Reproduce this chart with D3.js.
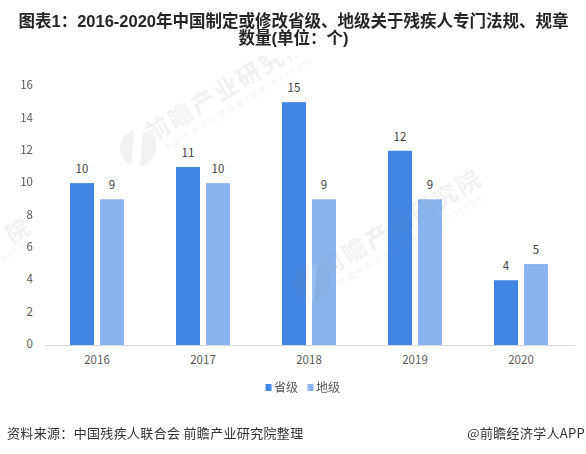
<!DOCTYPE html>
<html>
<head>
<meta charset="utf-8">
<script src="https://cdn.jsdelivr.net/npm/d3@7"></script>
<style>
    html, body { margin: 0; padding: 0; background: #fff; }
    svg { display: block; }
    text { font-family: "Noto Sans CJK SC", "Liberation Sans", sans-serif; }
</style>
</head>
<body>
<div id="chart"></div>
<script>
const years = ["2016", "2017", "2018", "2019", "2020"]
const seriesNames = ["省级", "地级"]
const provincial = [10, 11, 15, 12, 4]
const municipal = [9, 10, 9, 9, 5]
const yTicks = [0, 2, 4, 6, 8, 10, 12, 14, 16]
const titleLines = ["图表1：2016-2020年中国制定或修改省级、地级关于残疾人专门法规、规章", "数量(单位：个)"]
const sourceText = "资料来源：中国残疾人联合会 前瞻产业研究院整理"
const creditText = "@前瞻经济学人APP"

const width = 586
const height = 454
const colors = ["#4185e5", "#8ab4f0"]
const seriesValues = [provincial, municipal]

const svg = d3.select("#chart").append("svg")
    .attr("width", width)
    .attr("height", height)

// top of the watermark fades out below the title
svg.append("clipPath").attr("id", "mark-clip")
    .append("rect").attr("x", 0).attr("y", 56).attr("width", width).attr("height", height - 56)

// scales
const x = d3.scaleBand().domain(years).range([44, 574])
const x1 = d3.scaleBand().domain(seriesNames).range([0, 54]).paddingInner(0.2)
const y = d3.scaleLinear().domain([0, 16]).range([345, 86])
const groupOffset = (x.bandwidth() - 54) / 2

// --------- bars
const groups = svg.append("g").selectAll("g")
    .data(years)
    .join("g")
    .attr("transform", d => `translate(${x(d) + groupOffset},0)`)

seriesNames.forEach((name, s) => {
    groups.append("rect")
        .attr("x", x1(name))
        .attr("width", x1.bandwidth())
        .attr("y", (d, i) => y(seriesValues[s][i]))
        .attr("height", (d, i) => y(0) - y(seriesValues[s][i]))
        .attr("fill", colors[s])

    groups.append("text")
        .attr("x", x1(name) + x1.bandwidth() / 2)
        .attr("y", (d, i) => y(seriesValues[s][i]) - 10)
        .attr("text-anchor", "middle")
        .attr("font-size", 11.5)
        .attr("fill", "#404040")
        .text((d, i) => seriesValues[s][i])
})

// --------- watermark, shows through the bars
const markColor = "#7f8a9c"
const drawWatermark = (g) => {
    g.append("circle").attr("r", 18).attr("fill", markColor)
    g.append("path").attr("d", "M-4,-18 L5,-18 L2,18 L-7,18 Z").attr("fill", "#fff")
    g.append("text")
        .attr("transform", "translate(14,-5) rotate(-31)")
        .attr("font-size", 24)
        .attr("letter-spacing", 2.5)
        .attr("font-weight", 700)
        .attr("fill", markColor)
        .text("前瞻产业研究院")
    g.append("text")
        .attr("transform", "translate(28,3) rotate(-31)")
        .attr("font-size", 7.5)
        .attr("letter-spacing", 3)
        .attr("fill", markColor)
        .text("中国产业咨询领导者(股票:839599)")
}

const markLayer = svg.append("g")
    .attr("clip-path", "url(#mark-clip)")
    .attr("opacity", 0.11)
markLayer.selectAll("g")
    .data([[138, 148], [312, 283]])
    .join("g")
    .attr("transform", d => `translate(${d[0]},${d[1]})`)
    .each(function() { drawWatermark(d3.select(this)) })

// only the tail of the third stamp is on the page
markLayer.append("text")
    .attr("transform", "translate(12,244) rotate(-31)")
    .attr("font-size", 23)
    .attr("font-weight", 700)
    .attr("fill", markColor)
    .text("院")
markLayer.append("text")
    .attr("transform", "translate(4,262) rotate(-31)")
    .attr("font-size", 7.5)
    .attr("letter-spacing", 3)
    .attr("fill", markColor)
    .text("39599")

// --------- axes
const xAxis = svg.append("g")
    .attr("transform", `translate(0,${y(0)})`)
    .call(d3.axisBottom(x).tickSize(0).tickPadding(11))
xAxis.select(".domain").attr("stroke", "#d9d9d9").attr("stroke-width", 1)
xAxis.selectAll("text")
    .attr("font-size", 11.5)
    .attr("fill", "#595959")
    .style("font-family", '"Noto Sans CJK SC"')

const yAxis = svg.append("g")
    .attr("transform", "translate(33,-1)")
    .call(d3.axisLeft(y).tickValues(yTicks).tickSize(0).tickPadding(0))
yAxis.select(".domain").remove()
yAxis.selectAll("text")
    .attr("font-size", 11.5)
    .attr("fill", "#595959")
    .style("font-family", '"Noto Sans CJK SC"')

// --------- legend
const legend = svg.append("g")
const legendX = [265.5, 307.5]
seriesNames.forEach((name, s) => {
    legend.append("rect")
        .attr("x", legendX[s])
        .attr("y", 384)
        .attr("width", 6)
        .attr("height", 7)
        .attr("fill", colors[s])
    legend.append("text")
        .attr("x", legendX[s] + 8.5)
        .attr("y", 392)
        .attr("font-size", 12)
        .attr("fill", "#595959")
        .text(name)
})

// --------- title and footer
svg.append("g").selectAll("text")
    .data(titleLines)
    .join("text")
    .attr("x", 293.5)
    .attr("y", (d, i) => 27 + i * 17)
    .attr("text-anchor", "middle")
    .attr("font-size", 16.5)
    .attr("font-weight", 700)
    .attr("fill", "#262626")
    .style("font-family", '"Liberation Sans", "Noto Sans CJK SC"')
    .text(d => d)

svg.append("text")
    .attr("x", 7)
    .attr("y", 438)
    .attr("font-size", 13)
    .attr("letter-spacing", 0.33)
    .attr("fill", "#333")
    .text(sourceText)

svg.append("text")
    .attr("x", 585)
    .attr("y", 438)
    .attr("text-anchor", "end")
    .attr("font-size", 13)
    .attr("letter-spacing", 0.3)
    .attr("fill", "#333")
    .text(creditText)
</script>
</body>
</html>
